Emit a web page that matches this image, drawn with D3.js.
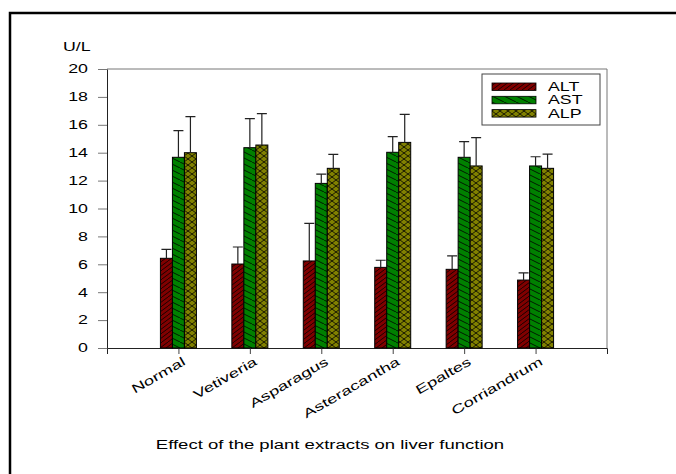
<!DOCTYPE html>
<html lang="en">
	<head>
		<meta charset="utf-8">
		<title>Liver function</title>
		<style>
		body { margin: 0; background: #fff; }
		svg text { font-family: "Liberation Sans", Arial, sans-serif; fill: #000; }
		</style>
	</head>
	<body>
		<svg id="chart" width="676" height="474"></svg>
		<script src="https://cdn.jsdelivr.net/npm/d3@7/dist/d3.min.js"></script>
		<script>

		// data
		var groups = ["Normal", "Vetiveria", "Asparagus", "Asteracantha", "Epaltes", "Corriandrum"];
		var series = ["ALT", "AST", "ALP"];
		var altMean = [6.43, 6.02, 6.24, 5.78, 5.64, 4.87];
		var altErr  = [0.64, 1.22, 2.70, 0.51, 0.96, 0.51];
		var astMean = [13.67, 14.36, 11.80, 14.03, 13.67, 13.05];
		var astErr  = [1.91, 2.08, 0.67, 1.12, 1.12, 0.66];
		var alpMean = [14.00, 14.55, 12.88, 14.74, 13.05, 12.88];
		var alpErr  = [2.58, 2.25, 1.00, 2.01, 2.03, 1.02];
		var yTicks = [0, 2, 4, 6, 8, 10, 12, 14, 16, 18, 20];

		var means = {ALT: altMean, AST: astMean, ALP: alpMean};
		var errs = {ALT: altErr, AST: astErr, ALP: alpErr};
		var fills = {ALT: "url(#hatchALT)", AST: "url(#hatchAST)", ALP: "url(#hatchALP)"};
		var stretch = 1.48;

		var svg = d3.select("#chart");

		// outer frame of the figure
		svg.append("path")
			.attr("d", "M10,476V13H678")
			.attr("fill", "none")
			.attr("stroke", "#000")
			.attr("stroke-width", 2.5);

		// hatch patterns
		var defs = svg.append("defs");
		function pattern(id, w, h, color, paths) {
			var p = defs.append("pattern")
				.attr("id", id)
				.attr("patternUnits", "userSpaceOnUse")
				.attr("width", w)
				.attr("height", h);
			p.append("rect").attr("width", w).attr("height", h).attr("fill", color);
			paths.forEach(function(d) {
				p.append("path").attr("d", d).attr("stroke", "#000").attr("stroke-width", 0.8).attr("fill", "none");
			});
		}
		pattern("hatchALT", 6, 9, "#800000", ["M-6,9L6,0M0,9L12,0"]);
		pattern("hatchAST", 12, 6, "#008000", ["M0,0L12,6M-12,0L0,6M12,0L24,6"]);
		pattern("hatchALP", 8, 6, "#808000", ["M0,0L8,6M-8,0L0,6M8,0L16,6", "M0,6L8,0M-8,6L0,0M8,6L16,0"]);

		var x = d3.scalePoint().domain(groups).range([107, 607]).padding(1);
		var xs = d3.scaleBand().domain(series).range([-18, 18]);
		var y = d3.scaleLinear().domain([0, 20]).range([348, 69]);

		function widen(sel) {
			sel.each(function() {
				var w = this.getComputedTextLength();
				d3.select(this).attr("textLength", w * stretch).attr("lengthAdjust", "spacingAndGlyphs");
			});
		}

		// top and right frame of the plot
		svg.append("path")
			.attr("d", "M107," + y(20) + "H607V" + y(0))
			.attr("fill", "none")
			.attr("stroke", "#777")
			.attr("stroke-width", 1);

		// y axis
		var yAxis = svg.append("g")
			.attr("transform", "translate(107,0)")
			.call(d3.axisLeft(y).tickValues(yTicks).tickSize(9).tickSizeOuter(0).tickPadding(10));
		yAxis.select(".domain").attr("stroke", "#222");
		yAxis.selectAll(".tick line").attr("stroke", "#777");
		yAxis.selectAll("text").attr("font-size", 12).attr("font-family", null).call(widen);

		// x axis
		var xAxis = svg.append("g")
			.attr("transform", "translate(0," + y(0) + ")")
			.call(d3.axisBottom(x).tickSize(6).tickSizeOuter(6).tickFormat(""));
		xAxis.select(".domain").attr("stroke", "#222");
		xAxis.selectAll(".tick line").attr("stroke", "#444");

		// bars
		var rows = [];
		groups.forEach(function(g, i) {
			series.forEach(function(s) {
				rows.push({group: g, key: s, v: means[s][i], e: errs[s][i]});
			});
		});

		var bars = svg.append("g");
		bars.selectAll("rect")
			.data(rows)
			.enter().append("rect")
			.attr("x", function(d) { return x(d.group) + xs(d.key); })
			.attr("y", function(d) { return y(d.v); })
			.attr("width", xs.bandwidth())
			.attr("height", function(d) { return y(0) - y(d.v); })
			.attr("fill", function(d) { return fills[d.key]; })
			.attr("stroke", "#000")
			.attr("stroke-width", 1);

		// error bars (upper only)
		var err = svg.append("g").attr("stroke", "#222").attr("stroke-width", 1.2);
		err.selectAll("path")
			.data(rows)
			.enter().append("path")
			.attr("fill", "none")
			.attr("d", function(d) {
				var cx = x(d.group) + xs(d.key) + xs.bandwidth() / 2;
				return "M" + cx + "," + y(d.v) + "V" + y(d.v + d.e) + "M" + (cx - 5) + "," + y(d.v + d.e) + "H" + (cx + 5);
			});

		// category labels
		svg.append("g").selectAll("text")
			.data(groups)
			.enter().append("text")
			.attr("transform", function(d) { return "translate(" + (x(d) + 8) + ",364) rotate(-30)"; })
			.attr("text-anchor", "end")
			.attr("font-size", 12.5)
			.text(function(d) { return d; })
			.call(widen);

		// unit label
		svg.append("text")
			.attr("x", 63)
			.attr("y", 51)
			.attr("font-size", 12)
			.text("U/L")
			.call(widen);

		// legend
		var legend = svg.append("g");
		legend.append("rect")
			.attr("x", 482).attr("y", 74)
			.attr("width", 118).attr("height", 51)
			.attr("fill", "#fff")
			.attr("stroke", "#444");
		series.forEach(function(s, i) {
			legend.append("rect")
				.attr("x", 492).attr("y", 83 + i * 13.3)
				.attr("width", 44).attr("height", 7.5)
				.attr("fill", fills[s])
				.attr("stroke", "#000").attr("stroke-width", 0.8);
			legend.append("text")
				.attr("x", 548).attr("y", 91 + i * 13.3)
				.attr("font-size", 12)
				.text(s)
				.call(widen);
		});

		// caption
		svg.append("text")
			.attr("x", 330)
			.attr("y", 449)
			.attr("text-anchor", "middle")
			.attr("font-size", 12.5)
			.text("Effect of the plant extracts on liver function")
			.call(widen);

		</script>
	</body>
</html>
